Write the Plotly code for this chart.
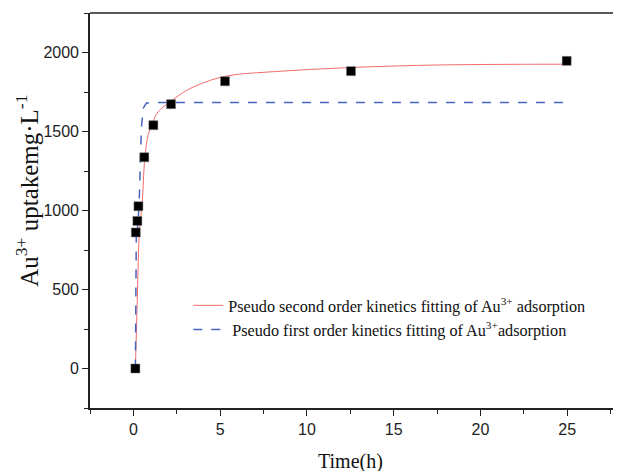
import plotly.graph_objects as go

# measured points (time h, uptake mg/L)
time_pts = [0.115, 0.14, 0.23, 0.29, 0.63, 1.15, 2.17, 5.28, 12.54, 24.97]
uptake_pts = [0, 861, 934, 1027, 1337, 1540, 1673, 1818, 1882, 1947]

# pseudo second order fit curve
t_second = [0.115, 0.23, 0.35, 0.50, 0.66, 0.85, 1.13, 1.42, 2.11, 3.08, 4.03,
            4.99, 5.96, 7.30, 11.33, 17.09, 24.97]
q_second = [0, 453, 875, 1034, 1331, 1477, 1561, 1624, 1687, 1761, 1808,
            1842, 1861, 1873, 1899, 1920, 1926]

# pseudo first order fit curve
t_first = [0.115, 0.17, 0.21, 0.33, 0.46, 0.56, 0.75, 1.2, 24.97]
q_first = [0, 875, 844, 1034, 1519, 1646, 1680, 1683, 1683]

x_ticks = [0, 5, 10, 15, 20, 25]
y_ticks = [0, 500, 1000, 1500, 2000]

fig = go.Figure()
fig.add_trace(go.Scatter(
    x=t_second, y=q_second, mode="lines", line_shape="spline",
    line=dict(color="#f26b6b", width=1),
    name="Pseudo second order kinetics fitting of Au<sup>3+</sup> adsorption"))
fig.add_trace(go.Scatter(
    x=t_first, y=q_first, mode="lines",
    line=dict(color="#4a64c0", width=1.5, dash="dash"),
    name="\u00a0Pseudo first order kinetics fitting of Au<sup>3+</sup>adsorption"))
fig.add_trace(go.Scatter(
    x=time_pts, y=uptake_pts, mode="markers",
    marker=dict(symbol="square", size=9, color="black",
                line=dict(color="#777777", width=0.5)),
    showlegend=False))

axis_common = dict(
    showline=True, linecolor="#222222", linewidth=1.6,
    ticks="outside", ticklen=6, tickwidth=1.4, tickcolor="#222222",
    showgrid=False, zeroline=False,
    tickfont=dict(family="Liberation Sans, Arial", size=16, color="#222222"),
)

fig.update_layout(
    width=613, height=463,
    margin=dict(l=82, r=0, t=5, b=63),
    paper_bgcolor="white", plot_bgcolor="white",
    xaxis=dict(range=[-2.5, 28.1], tickvals=x_ticks,
               minor=dict(dtick=2.5, tick0=0, ticks="outside", ticklen=4,
                          tickwidth=1.2, tickcolor="#222222"),
               **axis_common),
    yaxis=dict(range=[-250, 2250], tickvals=y_ticks,
               minor=dict(dtick=250, tick0=0, ticks="outside", ticklen=4,
                          tickwidth=1.2, tickcolor="#222222"),
               **axis_common),
    legend=dict(x=0.185, y=0.303, xanchor="left", yanchor="top",
                bgcolor="rgba(0,0,0,0)", borderwidth=0,
                font=dict(family="Liberation Serif, Times New Roman", size=16.2,
                          color="#111111"),
                itemwidth=30, tracegroupgap=0),
    shapes=[dict(type="line", xref="paper", yref="paper", x0=0, x1=1, y0=1, y1=1,
                 line=dict(color="#222222", width=1.6))],
    annotations=[
        dict(text="Time(h)", xref="paper", yref="paper", x=0.49, y=0,
             yshift=-53, yanchor="middle", showarrow=False,
             font=dict(family="Liberation Serif, Times New Roman", size=20,
                       color="#111111")),
        dict(text="Au<sup>3+</sup> uptakemg·L<sup>-1</sup>", xref="paper", yref="paper",
             x=0, xshift=-63, y=0.55, textangle=-90, showarrow=False,
             xanchor="center", yanchor="middle",
             font=dict(family="Liberation Serif, Times New Roman", size=25,
                       color="#111111")),
    ],
)

fig.write_html("out.html")
